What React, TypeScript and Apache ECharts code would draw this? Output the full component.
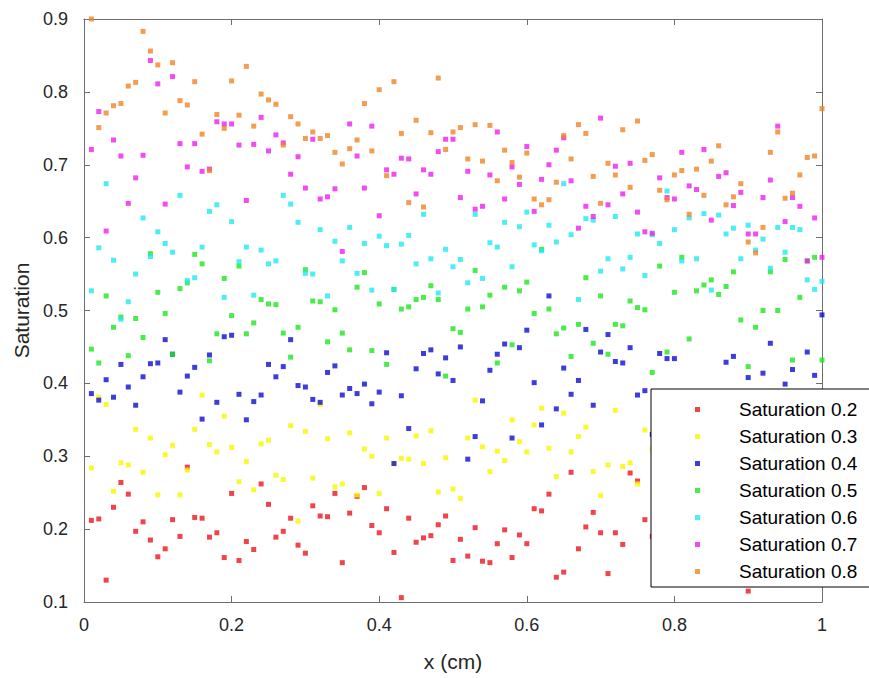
import React, { useEffect, useRef } from "react";
import * as echarts from "echarts";

const X = [
  0.01, 0.02, 0.03, 0.04, 0.05, 0.06, 0.07, 0.08, 0.09, 0.1,
  0.11, 0.12, 0.13, 0.14, 0.15, 0.16, 0.17, 0.18, 0.19, 0.2,
  0.21, 0.22, 0.23, 0.24, 0.25, 0.26, 0.27, 0.28, 0.29, 0.3,
  0.31, 0.32, 0.33, 0.34, 0.35, 0.36, 0.37, 0.38, 0.39, 0.4,
  0.41, 0.42, 0.43, 0.44, 0.45, 0.46, 0.47, 0.48, 0.49, 0.5,
  0.51, 0.52, 0.53, 0.54, 0.55, 0.56, 0.57, 0.58, 0.59, 0.6,
  0.61, 0.62, 0.63, 0.64, 0.65, 0.66, 0.67, 0.68, 0.69, 0.7,
  0.71, 0.72, 0.73, 0.74, 0.75, 0.76, 0.77, 0.78, 0.79, 0.8,
  0.81, 0.82, 0.83, 0.84, 0.85, 0.86, 0.87, 0.88, 0.89, 0.9,
  0.91, 0.92, 0.93, 0.94, 0.95, 0.96, 0.97, 0.98, 0.99, 1.0,
];

const S02 = [
  0.212, 0.214, 0.13, 0.23, 0.264, 0.248, 0.197, 0.21, 0.185, 0.162,
  0.173, 0.213, 0.19, 0.285, 0.216, 0.215, 0.189, 0.195, 0.161, 0.249,
  0.157, 0.183, 0.172, 0.262, 0.234, 0.189, 0.197, 0.215, 0.178, 0.167,
  0.232, 0.218, 0.217, 0.249, 0.154, 0.222, 0.245, 0.257, 0.205, 0.195,
  0.228, 0.168, 0.106, 0.215, 0.182, 0.188, 0.191, 0.206, 0.218, 0.157,
  0.186, 0.163, 0.202, 0.156, 0.154, 0.18, 0.199, 0.161, 0.192, 0.18,
  0.228, 0.225, 0.248, 0.134, 0.141, 0.278, 0.173, 0.203, 0.223, 0.195,
  0.139, 0.195, 0.179, 0.277, 0.266, 0.213, 0.19, 0.22, 0.17, 0.24,
  0.2, 0.16, 0.21, 0.18, 0.23, 0.15, 0.2, 0.19, 0.22, 0.115,
  0.18, 0.21, 0.16, 0.24, 0.19, 0.17, 0.22, 0.2, 0.18, 0.21,
];

const S03 = [
  0.284, 0.381, 0.371, 0.252, 0.291, 0.288, 0.337, 0.278, 0.325, 0.247,
  0.302, 0.315, 0.247, 0.281, 0.337, 0.384, 0.316, 0.306, 0.355, 0.312,
  0.265, 0.293, 0.254, 0.317, 0.322, 0.274, 0.268, 0.342, 0.211, 0.334,
  0.27, 0.371, 0.324, 0.258, 0.262, 0.332, 0.247, 0.31, 0.3, 0.249,
  0.325, 0.29, 0.297, 0.296, 0.328, 0.29, 0.335, 0.251, 0.298, 0.255,
  0.242, 0.325, 0.377, 0.313, 0.279, 0.307, 0.294, 0.35, 0.32, 0.306,
  0.343, 0.366, 0.311, 0.272, 0.359, 0.306, 0.327, 0.34, 0.279, 0.246,
  0.288, 0.363, 0.286, 0.291, 0.262, 0.336, 0.31, 0.27, 0.33, 0.29,
  0.35, 0.3, 0.26, 0.32, 0.28, 0.34, 0.29, 0.31, 0.25, 0.33,
  0.3, 0.36, 0.28, 0.32, 0.27, 0.34, 0.3, 0.29, 0.33, 0.31,
];

const S04 = [
  0.386, 0.377, 0.405, 0.381, 0.426, 0.395, 0.37, 0.409, 0.427, 0.428,
  0.46, 0.44, 0.388, 0.41, 0.422, 0.351, 0.439, 0.374, 0.464, 0.466,
  0.385, 0.35, 0.375, 0.384, 0.426, 0.409, 0.423, 0.46, 0.397, 0.395,
  0.378, 0.374, 0.415, 0.424, 0.384, 0.393, 0.386, 0.399, 0.372, 0.388,
  0.442, 0.29, 0.383, 0.338, 0.42, 0.441, 0.446, 0.413, 0.435, 0.404,
  0.45, 0.296, 0.327, 0.376, 0.418, 0.44, 0.454, 0.325, 0.449, 0.473,
  0.401, 0.343, 0.52, 0.365, 0.421, 0.385, 0.404, 0.474, 0.37, 0.443,
  0.467, 0.43, 0.428, 0.449, 0.384, 0.39, 0.33, 0.441, 0.434, 0.434,
  0.36, 0.33, 0.35, 0.31, 0.34, 0.33, 0.429, 0.437, 0.36, 0.408,
  0.34, 0.414, 0.455, 0.35, 0.399, 0.419, 0.33, 0.443, 0.411, 0.494,
];

const S05 = [
  0.447, 0.428, 0.52, 0.477, 0.491, 0.438, 0.489, 0.463, 0.578, 0.525,
  0.496, 0.44, 0.53, 0.538, 0.577, 0.564, 0.431, 0.468, 0.544, 0.493,
  0.561, 0.468, 0.483, 0.515, 0.509, 0.508, 0.469, 0.436, 0.477, 0.556,
  0.513, 0.512, 0.457, 0.501, 0.469, 0.446, 0.532, 0.552, 0.445, 0.509,
  0.426, 0.529, 0.502, 0.505, 0.515, 0.518, 0.534, 0.515, 0.41, 0.475,
  0.47, 0.502, 0.555, 0.505, 0.521, 0.428, 0.532, 0.453, 0.527, 0.539,
  0.496, 0.584, 0.502, 0.468, 0.476, 0.437, 0.481, 0.545, 0.455, 0.52,
  0.44, 0.481, 0.479, 0.513, 0.504, 0.501, 0.415, 0.561, 0.443, 0.525,
  0.573, 0.461, 0.527, 0.535, 0.542, 0.522, 0.533, 0.553, 0.487, 0.423,
  0.477, 0.5, 0.553, 0.5, 0.57, 0.432, 0.518, 0.568, 0.573, 0.432,
];

const S06 = [
  0.527, 0.586, 0.674, 0.569, 0.488, 0.512, 0.55, 0.627, 0.574, 0.608,
  0.592, 0.58, 0.658, 0.541, 0.545, 0.587, 0.636, 0.645, 0.518, 0.622,
  0.567, 0.587, 0.521, 0.583, 0.564, 0.568, 0.658, 0.646, 0.621, 0.551,
  0.55, 0.611, 0.52, 0.595, 0.568, 0.614, 0.551, 0.592, 0.528, 0.602,
  0.589, 0.529, 0.591, 0.603, 0.564, 0.632, 0.571, 0.524, 0.584, 0.56,
  0.57, 0.538, 0.632, 0.544, 0.593, 0.587, 0.621, 0.56, 0.615, 0.635,
  0.59, 0.582, 0.617, 0.594, 0.674, 0.604, 0.515, 0.626, 0.624, 0.554,
  0.571, 0.629, 0.557, 0.573, 0.605, 0.548, 0.604, 0.592, 0.664, 0.611,
  0.568, 0.627, 0.571, 0.633, 0.528, 0.631, 0.605, 0.613, 0.571, 0.617,
  0.583, 0.598, 0.558, 0.614, 0.58, 0.614, 0.611, 0.542, 0.529, 0.54,
];

const S07 = [
  0.721, 0.773, 0.609, 0.734, 0.712, 0.647, 0.682, 0.713, 0.843, 0.811,
  0.646, 0.821, 0.729, 0.697, 0.729, 0.691, 0.694, 0.759, 0.756, 0.756,
  0.727, 0.651, 0.728, 0.765, 0.719, 0.741, 0.73, 0.687, 0.711, 0.668,
  0.735, 0.653, 0.656, 0.667, 0.581, 0.756, 0.712, 0.668, 0.753, 0.63,
  0.693, 0.687, 0.709, 0.708, 0.66, 0.693, 0.687, 0.718, 0.735, 0.735,
  0.655, 0.691, 0.639, 0.643, 0.686, 0.745, 0.653, 0.697, 0.673, 0.725,
  0.636, 0.68, 0.7, 0.72, 0.737, 0.678, 0.613, 0.643, 0.629, 0.764,
  0.645, 0.698, 0.66, 0.702, 0.635, 0.608, 0.606, 0.682, 0.655, 0.653,
  0.717, 0.671, 0.666, 0.721, 0.624, 0.684, 0.689, 0.644, 0.662, 0.605,
  0.605, 0.655, 0.679, 0.753, 0.622, 0.655, 0.643, 0.568, 0.627, 0.573,
];

const S08 = [
  0.9, 0.751, 0.771, 0.781, 0.784, 0.808, 0.813, 0.883, 0.856, 0.837,
  0.771, 0.84, 0.788, 0.782, 0.814, 0.742, 0.692, 0.769, 0.75, 0.815,
  0.768, 0.835, 0.753, 0.797, 0.789, 0.783, 0.727, 0.766, 0.756, 0.736,
  0.745, 0.736, 0.74, 0.717, 0.701, 0.722, 0.734, 0.784, 0.719, 0.803,
  0.685, 0.814, 0.743, 0.648, 0.761, 0.642, 0.744, 0.819, 0.721, 0.745,
  0.751, 0.708, 0.755, 0.705, 0.754, 0.678, 0.72, 0.703, 0.683, 0.716,
  0.653, 0.645, 0.652, 0.676, 0.74, 0.708, 0.755, 0.743, 0.684, 0.647,
  0.702, 0.686, 0.748, 0.669, 0.76, 0.706, 0.714, 0.665, 0.652, 0.686,
  0.692, 0.632, 0.694, 0.658, 0.705, 0.726, 0.645, 0.656, 0.674, 0.594,
  0.579, 0.614, 0.717, 0.745, 0.654, 0.661, 0.686, 0.71, 0.712, 0.777,
];

const SERIES_NAMES = [
  "Saturation 0.2",
  "Saturation 0.3",
  "Saturation 0.4",
  "Saturation 0.5",
  "Saturation 0.6",
  "Saturation 0.7",
  "Saturation 0.8",
];
const SERIES_VALUES = [S02, S03, S04, S05, S06, S07, S08];
const COLORS = ["#ec1520", "#f7f700", "#0c0cd2", "#1fe61f", "#1fe8f0", "#ee1fee", "#ef8425"];

const FONT = "Liberation Sans, Arial, Helvetica, sans-serif";
const AXIS_COLOR = "#262626";
const LINE_COLOR = "#6e6e6e";

export default function App() {
  const ref = useRef<HTMLDivElement>(null);

  useEffect(() => {
    if (!ref.current) return;
    const chart = echarts.init(ref.current, undefined, { renderer: "svg" });

    const axisLine = { show: true, onZero: false, lineStyle: { color: LINE_COLOR, width: 1 } };
    const tickIn = { show: true, inside: true, length: 6, lineStyle: { color: LINE_COLOR, width: 1 } };

    chart.setOption({
      animation: false,
      backgroundColor: "#ffffff",
      grid: { left: 84, right: 47, top: 19, bottom: 76, containLabel: false },
      xAxis: [
        {
          type: "value",
          min: 0,
          max: 1,
          interval: 0.2,
          position: "bottom",
          name: "x (cm)",
          nameLocation: "middle",
          nameGap: 49,
          nameTextStyle: { fontFamily: FONT, fontSize: 21, color: AXIS_COLOR },
          axisLine,
          axisTick: tickIn,
          splitLine: { show: false },
          axisLabel: { fontFamily: FONT, fontSize: 18, color: AXIS_COLOR, margin: 14 },
        },
        {
          type: "value",
          min: 0,
          max: 1,
          interval: 0.2,
          position: "top",
          axisLine,
          axisTick: tickIn,
          splitLine: { show: false },
          axisLabel: { show: false },
        },
      ],
      yAxis: [
        {
          type: "value",
          min: 0.1,
          max: 0.9,
          interval: 0.1,
          position: "left",
          name: "Saturation",
          nameLocation: "middle",
          nameGap: 52,
          nameTextStyle: { fontFamily: FONT, fontSize: 21, color: AXIS_COLOR },
          axisLine,
          axisTick: tickIn,
          splitLine: { show: false },
          axisLabel: { fontFamily: FONT, fontSize: 18, color: AXIS_COLOR, margin: 16 },
        },
        {
          type: "value",
          min: 0.1,
          max: 0.9,
          interval: 0.1,
          position: "right",
          axisLine,
          axisTick: tickIn,
          splitLine: { show: false },
          axisLabel: { show: false },
        },
      ],
      legend: {
        orient: "vertical",
        left: 651,
        top: 389,
        backgroundColor: "#ffffff",
        borderColor: "#000000",
        borderWidth: 1,
        borderRadius: 0,
        padding: [11, 14, 6, 44],
        itemWidth: 5,
        itemHeight: 5,
        itemGap: 8,
        icon: "rect",
        selectedMode: false,
        textStyle: {
          fontFamily: FONT,
          fontSize: 19,
          color: "#000000",
          lineHeight: 18,
          padding: [0, 0, 0, 34],
        },
        data: SERIES_NAMES,
      },
      series: SERIES_NAMES.map((name, i) => ({
        name,
        type: "scatter",
        xAxisIndex: 0,
        yAxisIndex: 0,
        symbol: "rect",
        symbolSize: 5,
        itemStyle: { color: COLORS[i] },
        emphasis: { disabled: true },
        data: X.map((x, j) => [x, SERIES_VALUES[i][j]]),
      })),
    });

    return () => {
      chart.dispose();
    };
  }, []);

  return <div ref={ref} style={{ width: 869, height: 678, position: "absolute", left: 0, top: 0 }} />;
}
